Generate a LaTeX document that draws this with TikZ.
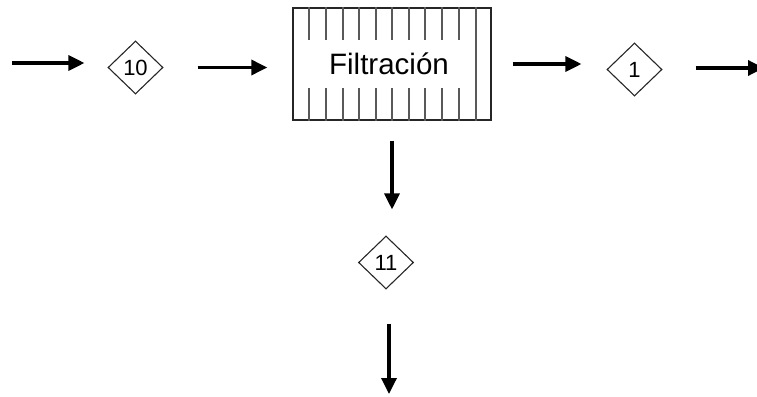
\documentclass[tikz,border=0pt]{standalone}
\usepackage{fontspec}
\setmainfont{Liberation Sans}
\usetikzlibrary{shapes.geometric,arrows.meta}
\begin{document}
\begin{tikzpicture}[x=1pt,y=-1pt,
  flow/.style={line width=3.4pt,-{Triangle[length=16pt,width=15pt]}},
  stream/.style={diamond,draw=black!85,line width=1.1pt,minimum width=55pt,minimum height=53pt,
    inner sep=0pt,font=\fontsize{22}{22}\selectfont},
  filter/.style={rectangle,draw=black!85,line width=1.4pt,minimum width=198pt,minimum height=112pt,inner sep=0pt},
  mesh/.style={line width=1.7pt,black!65}]
\useasboundingbox (0,0) rectangle (757,396);

% filter unit with its screen bars
\node[filter] (box) at (392,64) {};
\foreach \dx in {17,34,51,67,84,100,117,133,150,167}{
  \draw[mesh] ([xshift=\dx pt]box.north west) -- ++(0,33);
  \draw[mesh] ([xshift=\dx pt]box.south west) -- ++(0,-33);
}
\draw[mesh] ([xshift=184pt]box.north west) -- ([xshift=184pt]box.south west);
\node[font=\fontsize{29.5}{29.5}\selectfont] (lbl) at (389,64) {Filtración};

% stream markers
\node[stream] (d10) at (135.5,67.5) {10};
\node[stream] (d1)  at (634.5,69.5) {1};
\node[stream] (d11) at (386,262.5) {11};

% free ends
\coordinate (in)   at (12,63);
\coordinate (out1) at (764,68);
\coordinate (out2) at (389,394);

% flows
\draw[flow,shorten >=23pt] (in) -- (in -| d10.west);
\draw[flow,shorten <=34pt,shorten >=25pt] (d10.east) -- (d10.east -| box.west);
\draw[flow,shorten <=21pt,shorten >=25pt] (box.east) -- (box.east -| d1.west);
\draw[flow,shorten <=33pt] (d1.east |- out1) -- (out1);
\draw[flow,shorten <=20pt,shorten >=26pt] (box.south) -- (box.south |- d11.north);
\draw[flow,shorten <=34pt] (d11.south -| out2) -- (out2);
\end{tikzpicture}
\end{document}
